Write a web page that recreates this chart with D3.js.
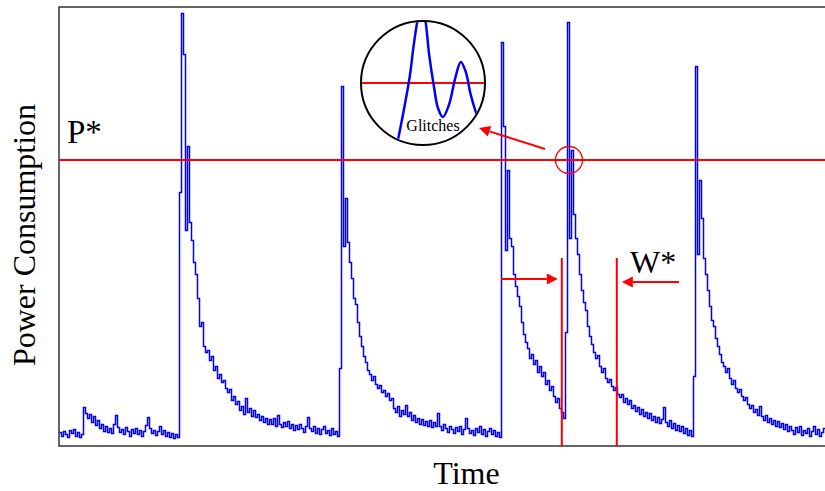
<!DOCTYPE html>
<html>
<head>
<meta charset="utf-8">
<script src="https://cdn.jsdelivr.net/npm/d3@7"></script>
<style>
  html, body { margin: 0; padding: 0; background: #fff; }
  svg { display: block; }
</style>
</head>
<body>
<svg id="chart" width="825" height="491"></svg>
<script>
// Power trace, one sample per time step, split by segment.
const idleStart = [
  7, 5, 7.5, 6, 4.5, 8, 6.5, 8.5, 5, 7,
  4.5, 6, 19.5, 16.5, 14, 16, 12, 15, 10.5, 13,
  9, 11, 7.5, 10, 7, 9, 6.5, 11, 15.5, 9.5,
  7, 8.5, 6, 9.5, 7.5, 5, 8.5, 6.5, 9, 6,
  8, 5, 7.5, 10.5, 14.5, 9, 6.5, 8, 5.5, 7.5,
  10, 6, 8, 5, 7, 4.5, 6.5, 4, 6, 4.5
];
const burst1 = [
  127, 216.5, 196, 108, 150, 112, 103, 92, 86, 74,
  60, 62, 50, 47, 48, 43, 45, 38, 40, 34,
  36, 32, 33, 29, 27, 28.5, 23, 25, 21, 22.5,
  18, 20, 16, 24, 17, 19, 15, 18, 14.5, 16,
  13, 15, 12, 14, 11, 13.5, 11, 14, 10, 15.5,
  11, 9.5, 12, 10, 12.5, 9, 11, 8, 10.5, 8.5,
  11, 9, 7, 10, 14.5, 9, 7.5, 10, 6.5, 9,
  6, 8.5, 10, 6.5, 8, 5.5, 9, 6, 7.5, 5
];
const burst2 = [
  39, 180, 100, 124, 102, 92, 84, 74, 71, 62,
  55, 50, 45, 42, 38, 36, 33, 35, 31, 29,
  30.5, 27, 28, 25, 26.5, 23, 24, 19, 17, 20,
  15, 18, 16, 20.5, 15, 17, 13, 15.5, 12, 14,
  11, 13.5, 10.5, 12.5, 10, 13, 9.5, 12, 10, 16.5,
  10, 8, 11, 9, 7, 10, 8.5, 6.5, 9.5, 7.5,
  10, 6, 8.5, 14, 9, 6.5, 8, 5.5, 9, 7,
  10, 6, 8.5, 5, 7.5, 9, 6, 8, 5, 7,
  4.5
];
const burst3 = [
  202, 160, 98, 138, 104, 100, 86, 80, 75, 70,
  62, 56, 52, 49, 44, 46, 41, 43, 37, 40,
  35, 37, 31, 33, 28, 30, 25, 22, 24, 19,
  17, 14, 57
];
const burst4 = [
  212, 104, 148, 116, 104, 96, 86, 78, 72, 68,
  60, 55, 51, 47, 44, 45.5, 40, 37, 39, 34,
  32, 33.5, 30, 28, 29.5, 26, 24.5, 26, 22, 24,
  21, 23, 19, 20.5, 17.5, 19.5, 16, 18.5, 15, 17,
  14, 16.5, 13, 15, 12, 14.5, 11.5, 13.5, 19.5, 12,
  10, 13, 9, 11.5, 8, 10.5, 7.5, 10, 6.5, 9,
  5.5, 8, 5
];
const burst5 = [
  35, 190, 96, 133, 114, 94, 86, 78, 70, 63,
  60, 54, 50, 46, 42, 40, 37, 39, 34, 31,
  33, 29, 27, 28.5, 25, 23, 24.5, 21, 19, 20.5,
  17, 18.5, 15.5, 20, 15, 13, 15.5, 12, 14, 11,
  13, 10, 12.5, 9.5, 11.5, 8.5, 11, 7.5, 10, 8,
  6, 9.5, 7, 10, 5.5, 8, 6.5, 9, 5, 7.5,
  10, 6, 8.5, 5, 7, 9
];
const power = [].concat(idleStart, burst1, burst2, burst3, burst4, burst5);

// Threshold level and the measurement window (in time steps).
const pStar = 143;
const windowBounds = [251.4, 278.9];

// Sketch of the glitch shape for the magnified inset (unit-circle coords).
const glitchShape = [
  [-0.42, -1.0], [-0.31, -0.44], [-0.21, 0.13], [-0.15, 0.61], [-0.08, 1.05],
  [-0.03, 1.21], [0.03, 1.05], [0.10, 0.45], [0.18, -0.08], [0.24, -0.40],
  [0.32, -0.55], [0.42, -0.35], [0.52, 0.08], [0.61, 0.34], [0.69, 0.18],
  [0.77, -0.19], [0.87, -0.52], [0.94, -0.68]
];

const RED = "#ff0000", BLUE = "#0000ff", SERIF = "'Liberation Serif', 'Times New Roman', serif";

const svg = d3.select("#chart");
const plot = { left: 59, right: 825, top: 7, bottom: 446 };

const x = d3.scaleLinear().domain([0, power.length]).range([plot.left, plot.right]);
const y = d3.scaleLinear().domain([0, 219.5]).range([plot.bottom, plot.top]);

// Frame: top, left and bottom edges.
svg.append("path")
  .attr("d", `M${plot.right},${plot.top}H${plot.left}V${plot.bottom}H${plot.right}`)
  .attr("fill", "none").attr("stroke", "#333").attr("stroke-width", 1.5);

// Power trace (offset half a pixel so the steps land on pixel centres).
const pts = power.map((v, i) => [i, v]);
pts.push([power.length, power[power.length - 1]]);
svg.append("path")
  .datum(pts)
  .attr("transform", "translate(0.5,0.5)")
  .attr("d", d3.line().x(d => x(d[0])).y(d => Math.round(y(d[1]))).curve(d3.curveStepAfter))
  .attr("fill", "none").attr("stroke", BLUE).attr("stroke-width", 1.5);

// Threshold P*.
svg.append("line")
  .attr("x1", plot.left).attr("x2", plot.right)
  .attr("y1", y(pStar)).attr("y2", y(pStar))
  .attr("stroke", RED).attr("stroke-width", 2);
svg.append("text")
  .attr("x", 67).attr("y", 143)
  .attr("font-family", SERIF).attr("font-size", 33)
  .text("P*");

function arrow(x1, y1, x2, y2, len = 11, half = 5.5) {
  const a = Math.atan2(y2 - y1, x2 - x1);
  const bx = x2 - len * Math.cos(a), by = y2 - len * Math.sin(a);
  svg.append("line")
    .attr("x1", x1).attr("y1", y1).attr("x2", bx).attr("y2", by)
    .attr("stroke", RED).attr("stroke-width", 2);
  const px = -Math.sin(a) * half, py = Math.cos(a) * half;
  svg.append("path")
    .attr("d", `M${x2},${y2}L${bx + px},${by + py}L${bx - px},${by - py}Z`)
    .attr("fill", RED);
}

// Measurement window W*.
windowBounds.forEach(t => {
  svg.append("line")
    .attr("x1", x(t)).attr("x2", x(t))
    .attr("y1", y(94)).attr("y2", plot.bottom)
    .attr("stroke", RED).attr("stroke-width", 2);
});
arrow(x(221), y(83.5), x(windowBounds[0]) - 4, y(83.5));
arrow(x(310), y(82), x(windowBounds[1]) + 5, y(82));
svg.append("text")
  .attr("x", 630).attr("y", 273)
  .attr("font-family", SERIF).attr("font-size", 32)
  .text("W*");

// Marker on the glitch crossing the threshold.
const glitchT = 255;
svg.append("circle")
  .attr("cx", x(glitchT)).attr("cy", y(pStar)).attr("r", 13.5)
  .attr("fill", "none").attr("stroke", RED).attr("stroke-width", 1.3);
arrow(x(243), y(148.5), x(210), y(159));

// Magnified inset.
const inset = { cx: 423, cy: 83, r: 62 };
const ix = d3.scaleLinear().domain([-1, 1]).range([inset.cx - inset.r, inset.cx + inset.r]);
const iy = d3.scaleLinear().domain([-1, 1]).range([inset.cy + inset.r, inset.cy - inset.r]);

svg.append("clipPath").attr("id", "insetClip")
  .append("circle").attr("cx", inset.cx).attr("cy", inset.cy).attr("r", inset.r - 1);

svg.append("circle")
  .attr("cx", inset.cx).attr("cy", inset.cy).attr("r", inset.r)
  .attr("fill", "#fff");

const ig = svg.append("g").attr("clip-path", "url(#insetClip)");
ig.append("line")
  .attr("x1", ix(-1)).attr("x2", ix(1)).attr("y1", iy(0)).attr("y2", iy(0))
  .attr("stroke", RED).attr("stroke-width", 2);
ig.append("path")
  .datum(glitchShape)
  .attr("d", d3.line().x(d => ix(d[0])).y(d => iy(d[1])).curve(d3.curveCatmullRom))
  .attr("fill", "none").attr("stroke", BLUE).attr("stroke-width", 2.5);

svg.append("circle")
  .attr("cx", inset.cx).attr("cy", inset.cy).attr("r", inset.r)
  .attr("fill", "none").attr("stroke", "#000").attr("stroke-width", 2);

svg.append("text")
  .attr("x", 433).attr("y", 131)
  .attr("text-anchor", "middle")
  .attr("font-family", SERIF).attr("font-size", 16)
  .text("Glitches");

// Axis titles.
svg.append("text")
  .attr("transform", "translate(35,235) rotate(-90)")
  .attr("text-anchor", "middle")
  .attr("font-family", SERIF).attr("font-size", 32)
  .text("Power Consumption");
svg.append("text")
  .attr("x", 466.5).attr("y", 484)
  .attr("text-anchor", "middle")
  .attr("font-family", SERIF).attr("font-size", 32)
  .text("Time");
</script>
</body>
</html>
